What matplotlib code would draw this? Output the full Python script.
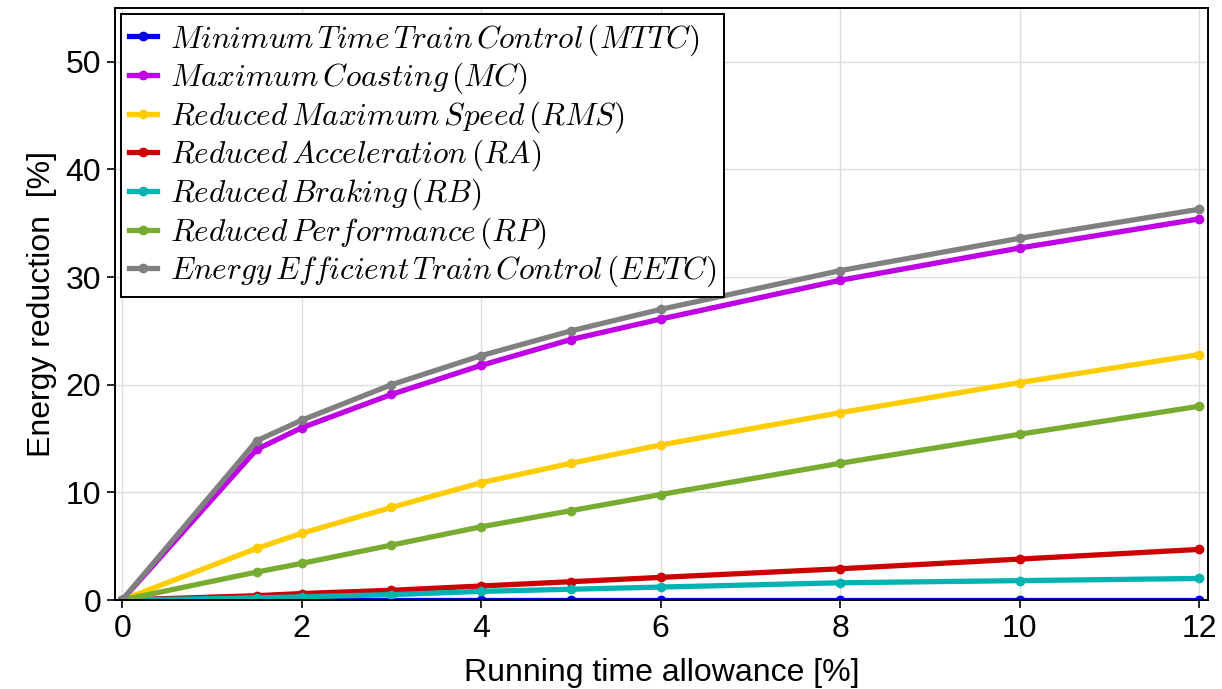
import matplotlib
matplotlib.use("Agg")
import matplotlib.pyplot as plt

plt.rcParams['font.family'] = ['Liberation Sans', 'DejaVu Sans']
plt.rcParams['mathtext.fontset'] = 'cm'

# running time allowance [%]
allowance = [0, 1.5, 2, 3, 4, 5, 6, 8, 10, 12]

# energy reduction [%] per strategy
mttc = [0, 0, 0, 0, 0, 0, 0, 0, 0, 0]
mc = [0, 14.0, 16.0, 19.1, 21.8, 24.2, 26.1, 29.7, 32.7, 35.4]
rms = [0, 4.8, 6.2, 8.6, 10.9, 12.7, 14.4, 17.4, 20.2, 22.8]
ra = [0, 0.4, 0.6, 0.9, 1.3, 1.7, 2.1, 2.9, 3.8, 4.7]
rb = [0, 0.2, 0.3, 0.5, 0.8, 1.0, 1.2, 1.6, 1.8, 2.0]
rp = [0, 2.6, 3.4, 5.1, 6.8, 8.3, 9.8, 12.7, 15.4, 18.0]
eetc = [0, 14.8, 16.7, 20.0, 22.7, 25.0, 27.0, 30.6, 33.6, 36.3]

labels = [r'$Minimum\,Time\,Train\,Control\,(MTTC)$',
          r'$Maximum\,Coasting\,(MC)$',
          r'$Reduced\,Maximum\,Speed\,(RMS)$',
          r'$Reduced\,Acceleration\,(RA)$',
          r'$Reduced\,Braking\,(RB)$',
          r'$Reduced\,Performance\,(RP)$',
          r'$Energy\,Efficient\,Train\,Control\,(EETC)$']
colors = ['#0000e6', '#bf00e6', '#ffcc00', '#cc0000', '#00b3b3', '#77ac30', '#808080']
series = [mttc, mc, rms, ra, rb, rp, eetc]

fig = plt.figure(figsize=(12.22, 6.89), dpi=100)
ax = fig.add_axes([115 / 1222, 89 / 689, (1208 - 115) / 1222, (600 - 8) / 689])

for vals, lab, col in zip(series, labels, colors):
    ax.plot(allowance, vals, color=col, lw=3.8, marker='o', ms=6, label=lab)

ax.set_xlim(-0.08, 12.1)
ax.set_ylim(0, 55)
ax.set_xticks([0, 2, 4, 6, 8, 10, 12])
ax.set_yticks([0, 10, 20, 30, 40, 50])
ax.grid(True, color='#dddddd', lw=1)
ax.set_axisbelow(True)
ax.tick_params(labelsize=23, length=6, width=1.2, direction='out', pad=4)
for s in ax.spines.values():
    s.set_linewidth(1.4)

ax.set_xlabel('Running time allowance [%]', fontsize=23, labelpad=10)
ax.set_ylabel('Energy reduction  [%]', fontsize=23, labelpad=6)

leg = ax.legend(loc='upper left', fontsize=22.5, handlelength=0.9, handletextpad=0.4,
                labelspacing=0.1, borderpad=0.25, fancybox=False, framealpha=1,
                edgecolor='black', borderaxespad=0.2)
leg.get_frame().set_linewidth(1.4)

fig.savefig('out.png', dpi=100)
